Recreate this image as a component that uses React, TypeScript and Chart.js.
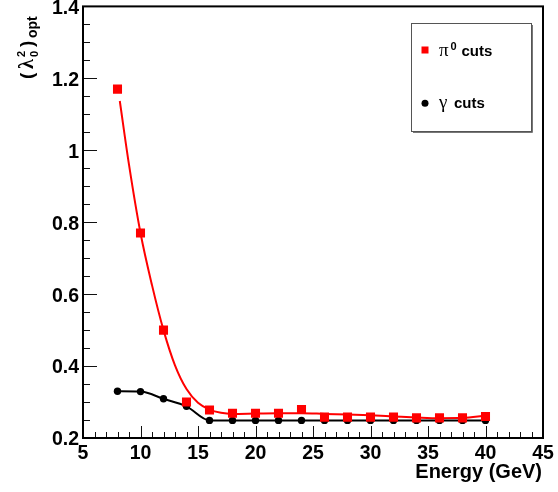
import React, { useEffect, useRef } from "react";
import { Chart, registerables } from "chart.js";

Chart.register(...registerables);

// ---- data ----
const energies = [8, 10, 12, 14, 16, 18, 20, 22, 24, 26, 28, 30, 32, 34, 36, 38, 40];
const pi0Values = [1.17, 0.77, 0.5, 0.3, 0.278, 0.269, 0.269, 0.269, 0.279, 0.258, 0.258, 0.258, 0.258, 0.256, 0.256, 0.256, 0.26];
const gammaValues = [0.33, 0.329, 0.309, 0.288, 0.249, 0.249, 0.249, 0.249, 0.249, 0.249, 0.249, 0.249, 0.249, 0.249, 0.249, 0.249, 0.249];
// fitted curve drawn through the π0 points
const fitEnergies = [8.2, 9, 10, 11, 12, 13, 14, 15, 16, 17, 18, 20, 22, 24, 26, 28, 30, 32, 34, 36, 38, 40];
const fitValues = [1.137, 0.96, 0.77, 0.625, 0.5, 0.402, 0.336, 0.298, 0.279, 0.27, 0.267, 0.268, 0.269, 0.269, 0.267, 0.265, 0.263, 0.26, 0.257, 0.255, 0.256, 0.262];

const xMin = 5;
const xMax = 45;
const xMajorStep = 5;
const xMinorStep = 1;
const yMin = 0.2;
const yMax = 1.4;
const yMajorStep = 0.2;
const yMinorStep = 0.05;

const xTitle = "Energy (GeV)";
const legendSymbols = ["π", "γ"];
const legendSups = ["0", ""];
const legendText = "cuts";

const SANS = '"Liberation Sans", Arial, Helvetica, sans-serif';
const SERIF = '"Liberation Serif", "Times New Roman", serif';

const framePlugin = {
  id: "rootFrame",
  afterDatasetsDraw(chart: any) {
    const { ctx, chartArea: a, scales } = chart;
    const xs = scales.x;
    const ys = scales.y;
    ctx.save();
    // ticks inside the frame
    ctx.strokeStyle = "#111";
    ctx.lineWidth = 1;
    const nX = Math.round((xMax - xMin) / xMinorStep);
    for (let i = 0; i <= nX; i++) {
      const v = xMin + i * xMinorStep;
      const major = Math.abs(v / xMajorStep - Math.round(v / xMajorStep)) < 1e-6;
      const px = Math.round(xs.getPixelForValue(v)) + 0.5;
      const len = major ? 12 : 6;
      ctx.beginPath();
      ctx.moveTo(px, a.bottom);
      ctx.lineTo(px, a.bottom - len);
      ctx.stroke();
    }
    const nY = Math.round((yMax - yMin) / yMinorStep);
    for (let i = 0; i <= nY; i++) {
      const v = yMin + i * yMinorStep;
      const major = i % Math.round(yMajorStep / yMinorStep) === 0;
      const py = Math.round(ys.getPixelForValue(v)) + 0.5;
      const len = major ? 14 : 7;
      ctx.beginPath();
      ctx.moveTo(a.left, py);
      ctx.lineTo(a.left + len, py);
      ctx.stroke();
    }
    // frame
    ctx.strokeStyle = "#000";
    ctx.lineWidth = 2;
    ctx.strokeRect(a.left, a.top, a.right - a.left, a.bottom - a.top);

    // x title
    ctx.fillStyle = "#000";
    ctx.font = `bold 20px ${SANS}`;
    ctx.textAlign = "right";
    ctx.textBaseline = "alphabetic";
    ctx.fillText(xTitle, a.right - 1, 478);

    // y title  (λ0²)opt  rotated
    ctx.save();
    ctx.translate(33, 79);
    ctx.rotate(-Math.PI / 2);
    ctx.textAlign = "left";
    ctx.font = `bold 19px ${SANS}`;
    ctx.fillText("(", 0, 0);
    ctx.font = `bold 20px ${SERIF}`;
    ctx.fillText("λ", 10, 0);
    ctx.font = `bold 11px ${SANS}`;
    ctx.fillText("2", 22, -8);
    ctx.fillText("0", 22, 4.5);
    ctx.font = `bold 19px ${SANS}`;
    ctx.fillText(")", 32, 0);
    ctx.font = `bold 14px ${SANS}`;
    ctx.fillText("opt", 41, 4);
    ctx.restore();

    // legend box
    const lx = 411, ly = 23, lw = 120, lh = 108;
    ctx.fillStyle = "#fff";
    ctx.fillRect(lx, ly, lw, lh);
    ctx.strokeStyle = "#555";
    ctx.lineWidth = 1;
    ctx.strokeRect(lx + 0.5, ly + 0.5, lw, lh);
    ctx.strokeStyle = "#777";
    ctx.beginPath();
    ctx.moveTo(lx + lw + 1.5, ly + 2);
    ctx.lineTo(lx + lw + 1.5, ly + lh + 1.5);
    ctx.lineTo(lx + 2, ly + lh + 1.5);
    ctx.stroke();

    const rows = [56, 107.5];
    const markerY = [50, 103.3];
    const ds = chart.data.datasets;
    // marker 1: red square
    ctx.fillStyle = ds[0].pointBackgroundColor;
    ctx.fillRect(421.5, markerY[0] - 3.5, 7, 7);
    // marker 2: black circle
    ctx.fillStyle = ds[1].pointBackgroundColor;
    ctx.beginPath();
    ctx.arc(425, markerY[1], 3.5, 0, Math.PI * 2);
    ctx.fill();

    ctx.fillStyle = "#000";
    ctx.textAlign = "left";
    // row 1
    ctx.font = `19px ${SERIF}`;
    ctx.fillText(legendSymbols[0], 439, rows[0]);
    ctx.font = `bold 11px ${SANS}`;
    ctx.fillText(legendSups[0], 450.5, rows[0] - 6);
    ctx.font = `bold 15px ${SANS}`;
    ctx.fillText(legendText, 461.5, rows[0]);
    // row 2
    ctx.font = `19px ${SERIF}`;
    ctx.fillText(legendSymbols[1], 439, rows[1]);
    ctx.font = `bold 15px ${SANS}`;
    ctx.fillText(legendText, 454, rows[1]);

    ctx.restore();
  },
};

export default function App() {
  const canvasRef = useRef<HTMLCanvasElement | null>(null);

  useEffect(() => {
    document.body.style.margin = "0";
    const canvas = canvasRef.current;
    if (!canvas) return;
    const chart = new Chart(canvas, {
      type: "scatter",
      data: {
        datasets: [
          {
            label: "π0 cuts",
            data: energies.map((e, i) => ({ x: e, y: pi0Values[i] })),
            showLine: false,
            pointStyle: "rect",
            pointRadius: 6.4,
            pointHoverRadius: 6.4,
            pointBackgroundColor: "#ff0000",
            pointBorderColor: "#ff0000",
            pointBorderWidth: 0,
            order: 0,
          },
          {
            label: "γ cuts",
            data: energies.map((e, i) => ({ x: e, y: gammaValues[i] })),
            showLine: true,
            borderColor: "#000",
            borderWidth: 2,
            cubicInterpolationMode: "monotone",
            pointStyle: "circle",
            pointRadius: 3.7,
            pointHoverRadius: 3.7,
            pointBackgroundColor: "#000",
            pointBorderColor: "#000",
            pointBorderWidth: 0,
            order: 1,
          },
          {
            label: "fit",
            data: fitEnergies.map((e, i) => ({ x: e, y: fitValues[i] })),
            showLine: true,
            borderColor: "#ff0000",
            borderWidth: 2,
            cubicInterpolationMode: "monotone",
            pointRadius: 0,
            pointHoverRadius: 0,
            order: 2,
          },
        ],
      },
      options: {
        responsive: false,
        animation: false,
        events: [],
        layout: { padding: { top: 6, right: 15, left: 0, bottom: 0 } },
        plugins: {
          legend: { display: false },
          tooltip: { enabled: false },
          title: { display: false },
        },
        scales: {
          x: {
            type: "linear",
            min: xMin,
            max: xMax,
            border: { display: false },
            grid: { display: false, drawTicks: false },
            ticks: {
              stepSize: xMajorStep,
              padding: 4,
              color: "#000",
              font: { family: SANS, size: 19.5, weight: "bold" },
              maxRotation: 0,
              autoSkip: false,
              callback: (v: any) => String(Math.round(Number(v))),
            },
            afterFit: (s: any) => {
              s.height = 54;
              s.paddingLeft = 0;
              s.paddingRight = 0;
            },
          },
          y: {
            type: "linear",
            min: yMin,
            max: yMax,
            border: { display: false },
            grid: { display: false, drawTicks: false },
            ticks: {
              stepSize: yMajorStep,
              padding: 4,
              color: "#000",
              labelOffset: 2,
              font: { family: SANS, size: 19.5, weight: "bold" },
              autoSkip: false,
              callback: (v: any) => String(Math.round(Number(v) * 10) / 10),
            },
            afterFit: (s: any) => {
              s.width = 83;
              s.paddingTop = 0;
              s.paddingBottom = 0;
            },
          },
        },
      },
      plugins: [framePlugin],
    } as any);
    return () => chart.destroy();
  }, []);

  return (
    <div style={{ position: "absolute", left: 0, top: 0, width: 558, height: 492, background: "#fff" }}>
      <canvas ref={canvasRef} width={558} height={492} style={{ display: "block" }} />
    </div>
  );
}
